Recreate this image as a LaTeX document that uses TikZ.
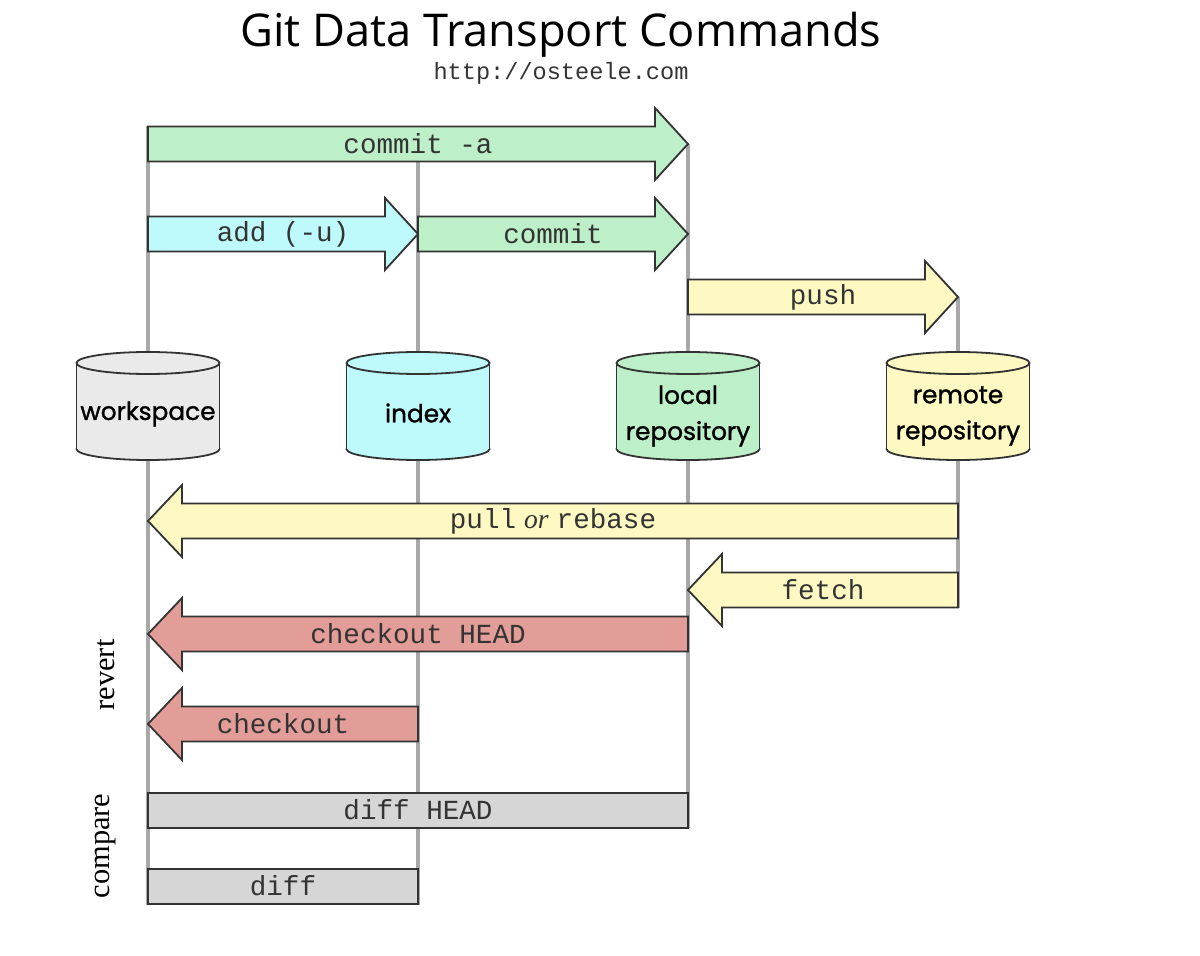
\documentclass[tikz,border=0pt]{standalone}
\usepackage{fontspec}
\setmainfont{Liberation Serif}
\newfontfamily\monof{Liberation Mono}
\newfontfamily\cylf[FakeBold=1.3]{Poppins}
\newfontfamily\titlef{Open Sans}
\definecolor{cgreen}{HTML}{BDF0C8}
\definecolor{ccyan}{HTML}{BEFAFC}
\definecolor{cyellow}{HTML}{FEF8C2}
\definecolor{cred}{HTML}{E29D98}
\definecolor{cgray}{HTML}{D6D6D6}
\definecolor{cws}{HTML}{EAEAEA}
\definecolor{cline}{HTML}{A8A8A8}
\definecolor{cborder}{HTML}{333333}
\tikzset{
  vline/.style={draw=cline, line width=2pt},
  shapeout/.style={draw=cborder, line width=0.9pt, line join=miter},
  lbl/.style={font=\monof\fontsize{13.8}{15}\selectfont, text=cborder, inner sep=0pt},
  cyllbl/.style={font=\cylf\fontsize{12.4}{14}\selectfont, text=black, align=center, inner sep=0pt},
  side/.style={font=\fontsize{15.2}{17}\selectfont, rotate=90, inner sep=0pt},
}
% right arrow: x1, x2, y, fill
\newcommand{\myrarrow}[4]{%
  \filldraw[shapeout, fill=#4] (#1,#3-17.5) -- (#2-33,#3-17.5) -- (#2-33,#3-36) -- (#2,#3) -- (#2-33,#3+36) -- (#2-33,#3+17.5) -- (#1,#3+17.5) -- cycle;}
% left arrow: tip x1, tail x2, y, fill
\newcommand{\mylarrow}[4]{%
  \filldraw[shapeout, fill=#4] (#2,#3-17.5) -- (#1+34,#3-17.5) -- (#1+34,#3-36) -- (#1,#3) -- (#1+34,#3+36) -- (#1+34,#3+17.5) -- (#2,#3+17.5) -- cycle;}
\newcommand{\mycyl}[2]{%
  \filldraw[shapeout, fill=#2] (#1,449) ellipse [x radius=71.5, y radius=11];
  \fill[#2] (#1-71.5,363) rectangle (#1+71.5,449);
  \draw[shapeout] (#1-71.5,363) -- (#1-71.5,449) (#1+71.5,363) -- (#1+71.5,449);
  \filldraw[shapeout, fill=#2] (#1,363) ellipse [x radius=71.5, y radius=11];}
\begin{document}
\begin{tikzpicture}[x=0.5pt, y=-0.5pt]
\useasboundingbox (0,0) rectangle (1200,956);
% column coordinates
\coordinate (wsTop) at (148,126);
\coordinate (wsBot) at (148,905);
\coordinate (ixTop) at (418,161);
\coordinate (ixBot) at (418,905);
\coordinate (lrTop) at (688,144);
\coordinate (lrBot) at (688,828);
\coordinate (rrTop) at (958,297);
\coordinate (rrBot) at (958,608);
\draw[vline] (wsTop) -- (wsBot);
\draw[vline] (ixTop) -- (ixBot);
\draw[vline] (lrTop) -- (lrBot);
\draw[vline] (rrTop) -- (rrBot);
% title
\node[font=\titlef\fontsize{22.6}{26}\selectfont, inner sep=0pt] (title) at (561,35) {Git Data Transport Commands};
\node[font=\monof\fontsize{11.8}{14}\selectfont, text=cborder, inner sep=0pt] (url) at (561,73) {http://osteele.com};
% arrows
\myrarrow{148}{688}{144}{cgreen}
\node[lbl] (commita) at (418,144) {commit -a};
\myrarrow{148}{418}{234}{ccyan}
\node[lbl] (add) at (283,234) {add (-u)};
\myrarrow{418}{688}{234}{cgreen}
\node[lbl] (commit) at (553,234) {commit};
\myrarrow{688}{958}{297}{cyellow}
\node[lbl] (push) at (823,297) {push};
% cylinders
\mycyl{148}{cws}
\node[cyllbl] (workspace) at (148,414) {workspace};
\mycyl{418}{ccyan}
\node[cyllbl] (index) at (418,413) {index};
\mycyl{688}{cgreen}
\node[cyllbl] (local) at (688,416) {local\\[4pt]repository};
\mycyl{958}{cyellow}
\node[cyllbl] (remote) at (958,416) {remote\\[4pt]repository};
% left arrows
\mylarrow{148}{958}{521}{cyellow}
\node[lbl] (pull) at (553,521) {pull\hspace{4pt}{\rmfamily\itshape or}\hspace{4pt}rebase};
\mylarrow{688}{958}{590}{cyellow}
\node[lbl] (fetch) at (823,590) {fetch};
\mylarrow{148}{688}{634}{cred}
\node[lbl] (cohead) at (418,634) {checkout HEAD};
\mylarrow{148}{418}{724}{cred}
\node[lbl] (co) at (283,724) {checkout};
% diff boxes
\filldraw[shapeout, fill=cgray] (148,793) rectangle (688,828);
\node[lbl] (diffhead) at (418,810) {diff HEAD};
\filldraw[shapeout, fill=cgray] (148,869) rectangle (418,904);
\node[lbl] (diff) at (283,886) {diff};
% side labels
\node[side] (revert) at (106,675) {revert};
\node[side] (compare) at (106,846) {compare};
\end{tikzpicture}
\end{document}
